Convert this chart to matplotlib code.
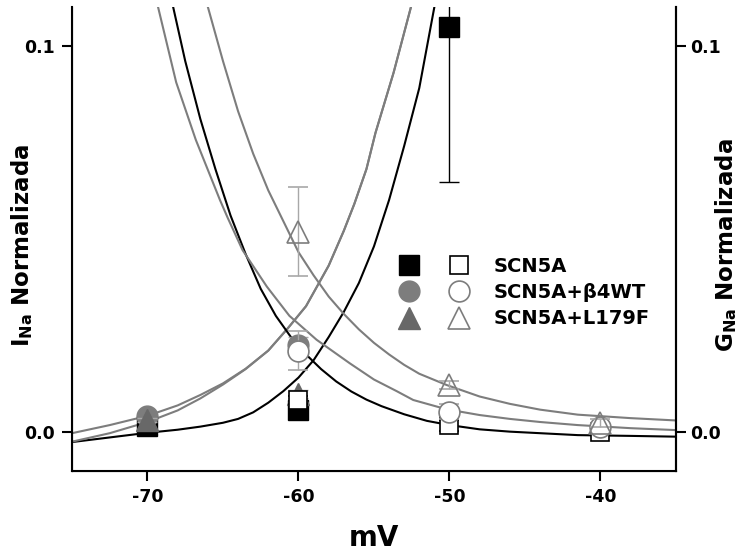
import matplotlib
matplotlib.use("Agg")
from matplotlib import pyplot as plt
from matplotlib.legend_handler import HandlerTuple

plt.rcParams["font.family"] = ["DejaVu Sans"]
plt.rcParams["font.weight"] = "bold"
plt.rcParams["axes.unicode_minus"] = False
plt.rcParams["mathtext.default"] = "bf"

# data points (mV, normalized)
volts = [-70, -60, -50, -40]

# filled symbols: INa (activation side)
act_scn5a = [0.0015, 0.0055, 0.1047]
act_scn5a_err = [0.0005, 0.0005, 0.04]
act_b4wt = [0.0040, 0.0225]
act_b4wt_err = [0.0005, 0.002]
act_l179f = [0.0030, 0.0098]
act_l179f_err = [0.0005, 0.001]

# open symbols: GNa (inactivation side)
inact_scn5a = [0.0082, 0.0016, 0.0]
inact_scn5a_err = [0.001, 0.0015, 0.0005]
inact_b4wt = [0.021, 0.0052, 0.0012]
inact_b4wt_err = [0.005, 0.002, 0.001]
inact_l179f = [0.0518, 0.012, 0.0023]
inact_l179f_err = [0.0115, 0.001, 0.001]

# fitted curves
fit_act_scn5a_v = [-75, -72.5, -70, -68, -66.5, -65, -64, -63, -62, -61, -60, -59, -58, -57,
                   -56, -55, -54, -53, -52, -51, -50.5]
fit_act_scn5a_y = [-0.0027, -0.0015, -0.0003, 0.0005, 0.0013, 0.0023, 0.0033, 0.0050, 0.0075,
                   0.0105, 0.0140, 0.0185, 0.0245, 0.031, 0.0385, 0.048, 0.060, 0.074, 0.089,
                   0.110, 0.120]

fit_act_b4wt_v = [-75, -72.5, -70, -68, -66.5, -65, -63.5, -62, -60.7, -59.5, -58, -57,
                  -56.3, -55.5, -54.9, -53.7, -52.55, -52.0]
fit_act_b4wt_y = [-0.0004, 0.0017, 0.0041, 0.0068, 0.0095, 0.0125, 0.0163, 0.021, 0.0268,
                  0.0325, 0.043, 0.052, 0.059, 0.068, 0.0774, 0.093, 0.110, 0.118]

fit_act_l179f_v = [-75, -72.5, -70, -68, -66.5, -65, -63.5, -62, -60.7, -59.5, -58, -57,
                   -56.3, -55.5, -54.9, -53.7, -52.55, -52.0]
fit_act_l179f_y = [-0.0026, -0.0004, 0.0025, 0.0055, 0.0086, 0.0122, 0.0162, 0.021, 0.0268,
                   0.0325, 0.043, 0.052, 0.059, 0.068, 0.0774, 0.093, 0.110, 0.118]

fit_inact_scn5a_v = [-68.8, -68.3, -67.5, -66.5, -65.5, -64.5, -63.5, -62.5, -61.5, -60.5,
                     -60, -59.5, -58.5, -57.5, -56.5, -55.5, -54.5, -53, -51.5, -50, -48, -46,
                     -44, -41.5, -38, -35]
fit_inact_scn5a_y = [0.118, 0.110, 0.096, 0.081, 0.068, 0.056, 0.046, 0.037, 0.030, 0.0245,
                     0.022, 0.0200, 0.0162, 0.013, 0.0104, 0.0083, 0.0066, 0.0045, 0.0028,
                     0.0017, 0.0006, 0.0, -0.0004, -0.0009, -0.0011, -0.0013]

fit_inact_b4wt_v = [-69.7, -69.3, -68.1, -66.8, -65.2, -64.7, -63.7, -62.1, -60.6, -58.8,
                    -56.6, -55, -53.5, -52.4, -50.2, -48, -46, -44, -41.5, -38, -35]
fit_inact_b4wt_y = [0.118, 0.110, 0.0905, 0.0756, 0.060, 0.0555, 0.047, 0.0376, 0.030, 0.0238,
                    0.0177, 0.0135, 0.0105, 0.0082, 0.0058, 0.0043, 0.0033, 0.0025, 0.0017,
                    0.0009, 0.0004]

fit_inact_l179f_v = [-66.5, -66.0, -65, -64, -63, -62, -61, -60, -59, -58, -57, -56, -55, -54,
                     -53, -52, -50.2, -48, -46, -44, -41.5, -38, -35]
fit_inact_l179f_y = [0.118, 0.110, 0.096, 0.083, 0.072, 0.0625, 0.0545, 0.0465, 0.0405, 0.035,
                     0.0305, 0.0265, 0.023, 0.020, 0.0173, 0.015, 0.0121, 0.0091, 0.0072,
                     0.0057, 0.0044, 0.0035, 0.0029]

labels = ["SCN5A", "SCN5A+\u03b24WT", "SCN5A+L179F"]

black = "#000000"
gray = "#7d7d7d"
dark = "#686868"
light = "#a8a8a8"

fig = plt.figure(figsize=(7.46, 5.52), dpi=100)
ax = fig.add_axes([0.0965, 0.1467, 0.8096, 0.8406])

# fits
lw = 1.5
ax.plot(fit_act_scn5a_v, fit_act_scn5a_y, color=black, lw=lw, zorder=2)
ax.plot(fit_act_b4wt_v, fit_act_b4wt_y, color=gray, lw=lw, zorder=2)
ax.plot(fit_act_l179f_v, fit_act_l179f_y, color=gray, lw=lw, zorder=2)
ax.plot(fit_inact_scn5a_v, fit_inact_scn5a_y, color=black, lw=lw, zorder=2)
ax.plot(fit_inact_b4wt_v, fit_inact_b4wt_y, color=gray, lw=lw, zorder=2)
ax.plot(fit_inact_l179f_v, fit_inact_l179f_y, color=gray, lw=lw, zorder=2)

ebkw = dict(capsize=7, elinewidth=1, capthick=1, linestyle="none")

h1 = ax.errorbar(volts[:3], act_scn5a, yerr=act_scn5a_err, marker="s", ms=14,
                 mfc=black, mec=black, ecolor=black, zorder=3, **ebkw)
h2 = ax.errorbar(volts[:2], act_b4wt, yerr=act_b4wt_err, marker="o", ms=15,
                 mfc=gray, mec=gray, ecolor=light, zorder=4, **ebkw)
h3 = ax.errorbar(volts[:2], act_l179f, yerr=act_l179f_err, marker="^", ms=16,
                 mfc=dark, mec=dark, ecolor=light, zorder=5, **ebkw)
h4 = ax.errorbar(volts[1:], inact_scn5a, yerr=inact_scn5a_err, marker="s", ms=13,
                 mfc="white", mec=black, mew=1.2, ecolor=black, zorder=6, **ebkw)
h5 = ax.errorbar(volts[1:], inact_b4wt, yerr=inact_b4wt_err, marker="o", ms=15,
                 mfc="white", mec=gray, mew=1.2, ecolor=light, zorder=7, **ebkw)
h6 = ax.errorbar(volts[1:], inact_l179f, yerr=inact_l179f_err, marker="^", ms=16,
                 mfc="none", mec=gray, mew=1.2, ecolor=light, zorder=8, **ebkw)

ax.set_xlim(-75, -35)
ax.set_ylim(-0.0102, 0.110)
ax.set_xticks([-70, -60, -50, -40])
ax.set_yticks([0.0, 0.1])
ax.set_yticklabels(["0.0", "0.1"])

ax.spines["top"].set_visible(False)
for s in ["left", "right", "bottom"]:
    ax.spines[s].set_linewidth(1.5)
ax.tick_params(axis="y", direction="out", length=7.5, width=1.5, labelsize=12.5, pad=5)
ax.tick_params(axis="x", direction="out", length=7, width=1.5, labelsize=12.5, pad=5)

ax2 = ax.twinx()
ax2.set_ylim(ax.get_ylim())
ax2.set_yticks([0.0, 0.1])
ax2.set_yticklabels(["0.0", "0.1"])
ax2.spines["top"].set_visible(False)
ax2.spines["right"].set_linewidth(1.5)
ax2.tick_params(direction="out", length=7.5, width=1.5, labelsize=12.5, pad=3)

ax.set_xlabel("mV", fontsize=20, fontweight="bold", labelpad=13)
ax.set_ylabel("I$_{Na}$ Normalizada", fontsize=16.5, fontweight="bold")
ax2.set_ylabel("G$_{Na}$ Normalizada", fontsize=16.5, fontweight="bold")
ax.yaxis.set_label_coords(-0.062, 0.487)
ax2.yaxis.set_label_coords(1.061, 0.487)

handles = [(h1[0], h4[0]), (h2[0], h5[0]), (h3[0], h6[0])]
leg = ax.legend(handles, labels, handler_map={tuple: HandlerTuple(ndivide=None, pad=0.3)},
                loc="upper left", bbox_to_anchor=(0.508, 0.479), frameon=False,
                fontsize=14, handlelength=4.9, handletextpad=0.6, labelspacing=0.38,
                borderaxespad=0)

fig.savefig("out.png", dpi=100)
